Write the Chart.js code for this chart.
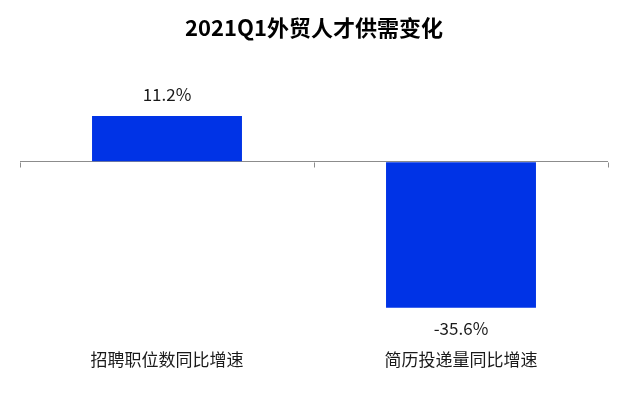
<!DOCTYPE html>
<html>
<head>
<meta charset="utf-8">
<script src="https://cdn.jsdelivr.net/npm/chart.js@4.4.0/dist/chart.umd.min.js"></script>
<style>
  html, body { margin: 0; padding: 0; background: #ffffff; }
  #wrap { width: 620px; height: 398px; }
</style>
</head>
<body>
<div id="wrap"><canvas id="myChart"></canvas></div>
<script>
const categories = ["招聘职位数同比增速", "简历投递量同比增速"];
const growthValues = [11.2, -35.6];
const valueLabels = ["11.2%", "-35.6%"];
const chartTitle = "2021Q1外贸人才供需变化";

const cjkFont = "'Noto Sans CJK SC', 'Noto Sans', sans-serif";

// value text above / below each bar
const barLabels = {
    id: "barLabels",
    afterDatasetsDraw(chart) {
        const ctx = chart.ctx;
        const meta = chart.getDatasetMeta(0);
        ctx.save();
        ctx.font = "17px " + cjkFont;
        ctx.fillStyle = "#1a1a1a";
        ctx.textAlign = "center";
        ctx.textBaseline = "middle";
        meta.data.forEach(function (bar, i) {
            const y = growthValues[i] >= 0 ? bar.y - 21 : bar.y + 21;
            ctx.fillText(valueLabels[i], bar.x, y);
        });
        ctx.restore();
    }
};

// small tick marks hanging off the zero line at category edges
const zeroTicks = {
    id: "zeroTicks",
    afterDraw(chart) {
        const ctx = chart.ctx;
        const xs = chart.scales.x;
        const y0 = Math.round(chart.scales.y.getPixelForValue(0)) + 0.5;
        ctx.save();
        ctx.strokeStyle = "#8c8c8c";
        ctx.lineWidth = 1;
        for (let i = 0; i <= categories.length; i++) {
            const px = Math.round(xs.getPixelForValue(i - 0.5)) + 0.5;
            ctx.beginPath();
            ctx.moveTo(px, y0);
            ctx.lineTo(px, y0 + 5);
            ctx.stroke();
        }
        ctx.restore();
    }
};

new Chart(document.getElementById("myChart"), {
    type: "bar",
    data: {
        labels: categories,
        datasets: [{
            data: growthValues,
            backgroundColor: "#0033e6",
            borderWidth: 0,
            barPercentage: 1,
            categoryPercentage: 0.51
        }]
    },
    options: {
        responsive: true,
        maintainAspectRatio: false,
        animation: false,
        layout: { padding: { left: 20, right: 12, top: 0, bottom: 0 } },
        plugins: {
            legend: { display: false },
            tooltip: { enabled: false },
            title: {
                display: true,
                text: chartTitle,
                color: "#000000",
                font: { family: cjkFont, size: 22, weight: "bold" },
                padding: { top: 14, bottom: 60 }
            }
        },
        scales: {
            x: {
                grid: { display: false, drawTicks: false },
                border: { display: false },
                ticks: {
                    color: "#1a1a1a",
                    padding: 28,
                    font: { family: cjkFont, size: 17 }
                }
            },
            y: {
                min: -39,
                max: 15,
                ticks: { display: false, stepSize: 3 },
                border: { display: false },
                grid: {
                    drawTicks: false,
                    color: function (c) { return c.tick.value === 0 ? "#8c8c8c" : "rgba(0,0,0,0)"; }
                }
            }
        }
    },
    plugins: [barLabels, zeroTicks]
});
</script>
</body>
</html>
